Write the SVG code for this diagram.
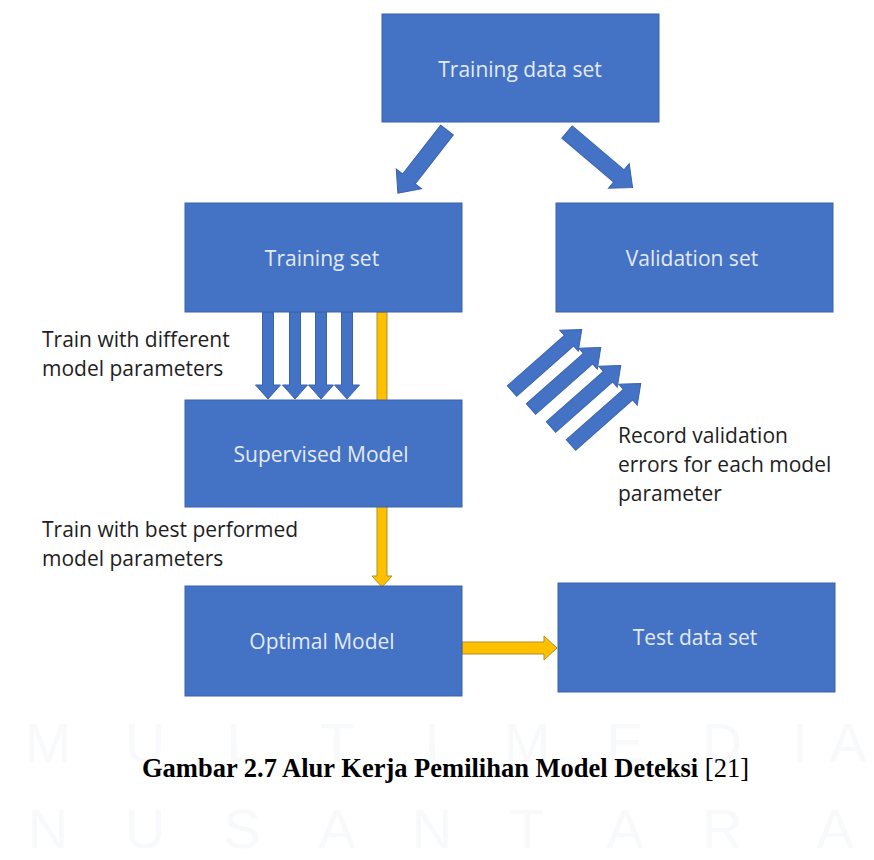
<svg xmlns="http://www.w3.org/2000/svg" width="874" height="860" viewBox="0 0 874 860">
  <style>
    .box { fill: #4472c4; stroke: #3a63ad; stroke-width: 1; }
    .boxtext { font-family: "Open Sans", "Liberation Sans", sans-serif; font-size: 21px; fill: #e3eaf6; text-anchor: middle; }
    .note { font-family: "Open Sans", "Liberation Sans", sans-serif; font-size: 21px; fill: #1e1e1e; }
    .blue { fill: #4472c4; stroke: #3a63ad; stroke-width: 1; }
    .gold { fill: #ffc000; stroke: #b08d2a; stroke-width: 1; }
    .wm { font-family: "Liberation Sans", sans-serif; font-size: 56px; fill: #f8f9fb; text-anchor: middle; }
    .caption { font-family: "Liberation Serif", serif; font-size: 26.5px; fill: #000; }
  </style>

  <rect width="874" height="860" fill="#ffffff"/>

  <!-- faint background lettering -->
  <g id="watermark">
    <text class="wm" x="48" y="762">M</text>
    <text class="wm" x="145" y="762">U</text>
    <text class="wm" x="242" y="762">L</text>
    <text class="wm" x="337" y="762">T</text>
    <text class="wm" x="432" y="762">I</text>
    <text class="wm" x="527" y="762">M</text>
    <text class="wm" x="625" y="762">E</text>
    <text class="wm" x="722" y="762">D</text>
    <text class="wm" x="800" y="762">I</text>
    <text class="wm" x="848" y="762">A</text>
    <text class="wm" x="48" y="848">N</text>
    <text class="wm" x="145" y="848">U</text>
    <text class="wm" x="242" y="848">S</text>
    <text class="wm" x="337" y="848">A</text>
    <text class="wm" x="432" y="848">N</text>
    <text class="wm" x="527" y="848">T</text>
    <text class="wm" x="625" y="848">A</text>
    <text class="wm" x="722" y="848">R</text>
    <text class="wm" x="835" y="848">A</text>
  </g>

  <!-- connectors: block arrows drawn along +x, then placed and rotated -->
  <g id="connectors">
    <!-- gold path through the supervised model down to the optimal model -->
    <polygon class="gold" points="377,312 387,312 387,576 392,576 382,587 372,576 377,576"/>
    <!-- gold arrow to test data set -->
    <polygon class="gold" points="462,642 544,642 544,636 557,648 544,660 544,654 462,654"/>

    <!-- split of the training data -->
    <polygon class="blue" transform="translate(447,130) rotate(127.9)" points="0,-8 62,-8 62,-16 80,0 62,16 62,8 0,8"/>
    <polygon class="blue" transform="translate(567,132) rotate(40.3)" points="0,-8 68,-8 68,-16 86,0 68,16 68,8 0,8"/>

    <!-- four training runs -->
    <polygon class="blue" transform="translate(268,312) rotate(90)" points="0,-5.5 73,-5.5 73,-12.5 87,0 73,12.5 73,5.5 0,5.5"/>
    <polygon class="blue" transform="translate(295,312) rotate(90)" points="0,-5.5 73,-5.5 73,-12.5 87,0 73,12.5 73,5.5 0,5.5"/>
    <polygon class="blue" transform="translate(321,312) rotate(90)" points="0,-5.5 73,-5.5 73,-12.5 87,0 73,12.5 73,5.5 0,5.5"/>
    <polygon class="blue" transform="translate(347,312) rotate(90)" points="0,-5.5 73,-5.5 73,-12.5 87,0 73,12.5 73,5.5 0,5.5"/>

    <!-- validation errors fed back -->
    <polygon class="blue" transform="translate(512,391) rotate(-41.4)" points="0,-7 76,-7 76,-14 93,0 76,14 76,7 0,7"/>
    <polygon class="blue" transform="translate(531,409) rotate(-41.4)" points="0,-7 76,-7 76,-14 93,0 76,14 76,7 0,7"/>
    <polygon class="blue" transform="translate(551,427) rotate(-41.4)" points="0,-7 76,-7 76,-14 93,0 76,14 76,7 0,7"/>
    <polygon class="blue" transform="translate(571,445) rotate(-41.4)" points="0,-7 76,-7 76,-14 93,0 76,14 76,7 0,7"/>
  </g>

  <g id="training-data-set">
    <rect class="box" x="382" y="14" width="277" height="108"/>
    <text class="boxtext" x="520" y="77">Training data set</text>
  </g>
  <g id="training-set">
    <rect class="box" x="185" y="203" width="277" height="109"/>
    <text class="boxtext" x="322" y="266">Training set</text>
  </g>
  <g id="validation-set">
    <rect class="box" x="556" y="203" width="277" height="109"/>
    <text class="boxtext" x="692" y="266">Validation set</text>
  </g>
  <g id="supervised-model">
    <rect class="box" x="185" y="400" width="277" height="107"/>
    <text class="boxtext" x="321" y="462">Supervised Model</text>
  </g>
  <g id="optimal-model">
    <rect class="box" x="185" y="586" width="277" height="110"/>
    <text class="boxtext" x="322" y="649">Optimal Model</text>
  </g>
  <g id="test-data-set">
    <rect class="box" x="558" y="583" width="277" height="109"/>
    <text class="boxtext" x="695" y="645">Test data set</text>
  </g>

  <g id="labels">
    <text class="note" x="42" y="347">Train with different</text>
    <text class="note" x="42" y="376">model parameters</text>
    <text class="note" x="42" y="537">Train with best performed</text>
    <text class="note" x="42" y="566">model parameters</text>
    <text class="note" x="618" y="443">Record validation</text>
    <text class="note" x="618" y="472">errors for each model</text>
    <text class="note" x="618" y="501">parameter</text>
  </g>

  <text class="caption" x="142" y="777"><tspan font-weight="bold">Gambar 2.7 Alur Kerja Pemilihan Model Deteksi</tspan> [21]</text>
</svg>
